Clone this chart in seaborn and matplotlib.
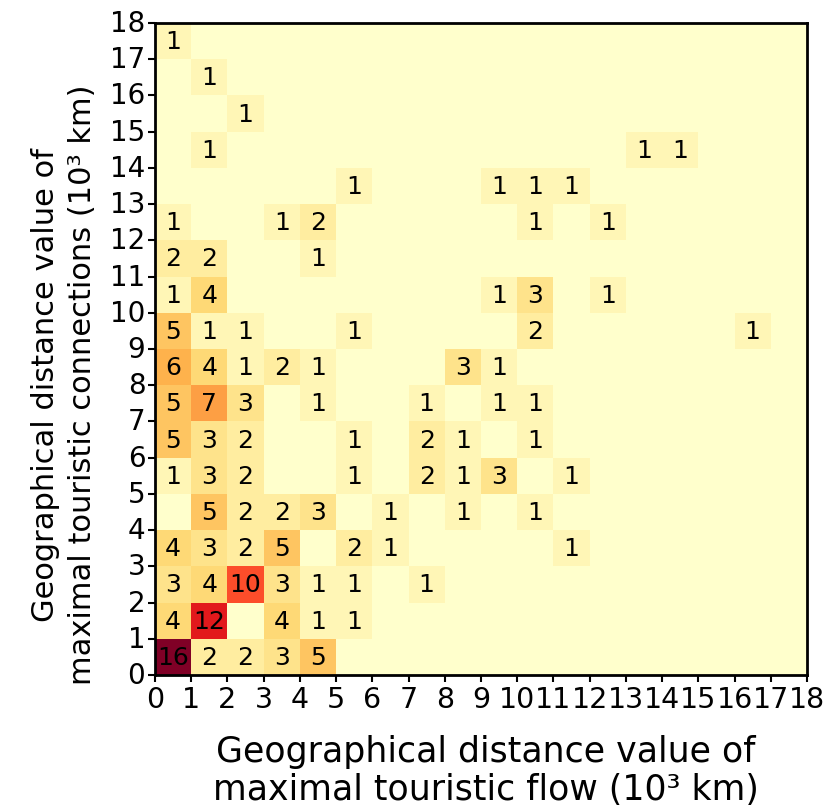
import numpy as np
import pandas as pd
import matplotlib
matplotlib.use("Agg")
import matplotlib.pyplot as plt
import seaborn as sns

sns.set_style("white")
plt.rcParams["font.family"] = ["DejaVu Sans"]
plt.rcParams["text.color"] = "black"
plt.rcParams["axes.labelcolor"] = "black"
plt.rcParams["xtick.color"] = "black"
plt.rcParams["ytick.color"] = "black"

# Binned counts: flow distance bin (x), connection distance bin (y), number of cases
x_bin = [0, 1, 2, 1, 13, 14, 5, 9, 10, 11, 0, 3, 4, 10, 12, 0, 1, 4,
         0, 1, 9, 10, 12, 0, 1, 2, 5, 10, 16, 0, 1, 2, 3, 4, 8, 9,
         0, 1, 2, 4, 7, 9, 10, 0, 1, 2, 5, 7, 8, 10,
         0, 1, 2, 5, 7, 8, 9, 11, 1, 2, 3, 4, 6, 8, 10,
         0, 1, 2, 3, 5, 6, 11, 0, 1, 2, 3, 4, 5, 7,
         0, 1, 3, 4, 5, 0, 1, 2, 3, 4]
y_bin = [17, 16, 15, 14, 14, 14, 13, 13, 13, 13, 12, 12, 12, 12, 12, 11, 11, 11,
         10, 10, 10, 10, 10, 9, 9, 9, 9, 9, 9, 8, 8, 8, 8, 8, 8, 8,
         7, 7, 7, 7, 7, 7, 7, 6, 6, 6, 6, 6, 6, 6,
         5, 5, 5, 5, 5, 5, 5, 5, 4, 4, 4, 4, 4, 4, 4,
         3, 3, 3, 3, 3, 3, 3, 2, 2, 2, 2, 2, 2, 2,
         1, 1, 1, 1, 1, 0, 0, 0, 0, 0]
count = [1, 1, 1, 1, 1, 1, 1, 1, 1, 1, 1, 1, 2, 1, 1, 2, 2, 1,
         1, 4, 1, 3, 1, 5, 1, 1, 1, 2, 1, 6, 4, 1, 2, 1, 3, 1,
         5, 7, 3, 1, 1, 1, 1, 5, 3, 2, 1, 2, 1, 1,
         1, 3, 2, 1, 2, 1, 3, 1, 5, 2, 2, 3, 1, 1, 1,
         4, 3, 2, 5, 2, 1, 1, 3, 4, 10, 3, 1, 1, 1,
         4, 12, 4, 1, 1, 16, 2, 2, 3, 5]

n_bins = 18
tick_labels = [str(i) for i in range(n_bins + 1)]

df = pd.DataFrame({"x": x_bin, "y": y_bin, "n": count})
grid = (df.pivot_table(index="y", columns="x", values="n", aggfunc="sum")
          .reindex(index=range(n_bins), columns=range(n_bins))
          .fillna(0))
annot = grid.map(lambda v: "" if v == 0 else str(int(v)))

fig = plt.figure(figsize=(8.26, 8.12), dpi=100)
ax = fig.add_axes([155 / 826, 1 - 676 / 812, 652 / 826, 652 / 812])

sns.heatmap(grid, cmap="YlOrRd", vmin=0, vmax=16, annot=annot.values, fmt="",
            cbar=False, square=False, ax=ax,
            annot_kws={"size": 18, "color": "black"})
ax.invert_yaxis()

ax.set_xticks(range(n_bins + 1))
ax.set_xticklabels(tick_labels, rotation=0, fontsize=20.5)
ax.set_yticks(range(n_bins + 1))
ax.set_yticklabels(tick_labels, rotation=0, fontsize=20)
ax.tick_params(axis="both", direction="out", length=5, width=1.5, pad=2,
               bottom=True, left=True, colors="black")

for side in ["left", "right", "top", "bottom"]:
    ax.spines[side].set_visible(True)
    ax.spines[side].set_color("black")
    ax.spines[side].set_linewidth(2)

ax.set_xlabel("Geographical distance value of\nmaximal touristic flow (10³ km)",
              fontsize=25, linespacing=1.15)
ax.set_ylabel("Geographical distance value of\nmaximal touristic connections (10³ km)",
              fontsize=22, linespacing=1.35)
ax.xaxis.set_label_coords(0.507, -0.09)
ax.yaxis.set_label_coords(-0.089, 0.446)

fig.savefig("out.png", dpi=100)
